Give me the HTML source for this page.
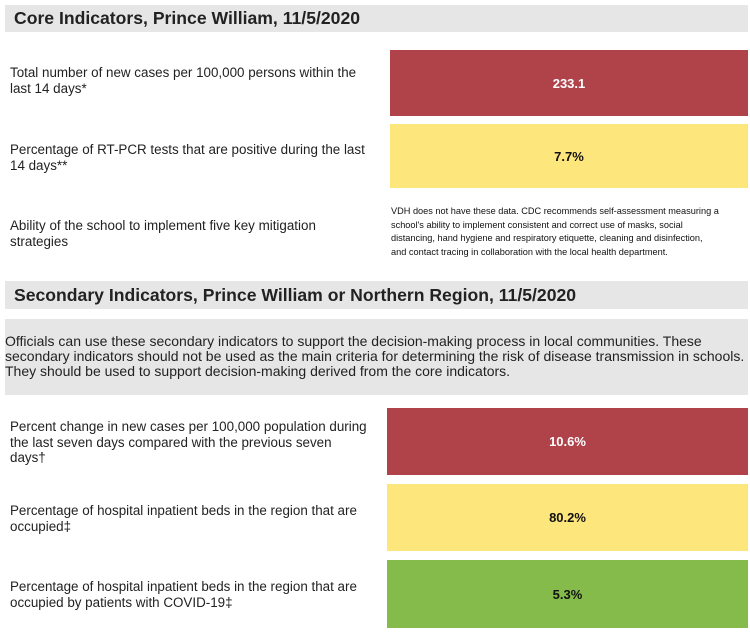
<!DOCTYPE html>
<html><head><meta charset="utf-8"><style>
body{margin:0;width:750px;height:640px;background:#fff;position:relative;overflow:hidden;font-family:"Liberation Sans",sans-serif;color:#222}
div{position:absolute}
.hdr{left:5px;right:2px;background:#e6e6e6;font-weight:bold;font-size:17.6px;color:#222;padding-left:9px;box-sizing:border-box;display:flex;align-items:center;white-space:nowrap}
.lbl{left:10px;font-size:13.4px;line-height:15.5px;color:#222;white-space:nowrap}
.box{font-weight:bold;font-size:13px;display:flex;align-items:center;justify-content:center}
.red{background:#b0434a;color:#fff}.yel{background:#fde77c;color:#111}.grn{background:#84bb4a;color:#111}
.small{left:391px;font-size:9.2px;line-height:13.5px;white-space:nowrap;color:#111;font-weight:500}
</style></head><body>
<div class="hdr" style="top:5px;height:27px">Core Indicators, Prince William, 11/5/2020</div>
<div class="lbl" style="top:65px">Total number of new cases per 100,000 persons within the<br>last 14 days*</div>
<div class="box red" style="left:390px;width:358px;top:50px;height:66px">233.1</div>
<div class="lbl" style="top:142px">Percentage of RT-PCR tests that are positive during the last<br>14 days**</div>
<div class="box yel" style="left:390px;width:358px;top:124px;height:64px">7.7%</div>
<div class="lbl" style="top:218px">Ability of the school to implement five key mitigation<br>strategies</div>
<div class="small" style="top:205px">VDH does not have these data. CDC recommends self-assessment measuring a<br>school's ability to implement consistent and correct use of masks, social<br>distancing, hand hygiene and respiratory etiquette, cleaning and disinfection,<br>and contact tracing in collaboration with the local health department.</div>
<div class="hdr" style="top:281px;height:28px">Secondary Indicators, Prince William or Northern Region, 11/5/2020</div>
<div style="left:5px;right:2px;top:319px;height:76px;background:#e6e6e6;font-size:14px;line-height:15px;padding-top:15px;box-sizing:border-box;color:#222;white-space:nowrap">Officials can use these secondary indicators to support the decision-making process in local communities. These<br>secondary indicators should not be used as the main criteria for determining the risk of disease transmission in schools.<br>They should be used to support decision-making derived from the core indicators.</div>
<div class="lbl" style="top:419px">Percent change in new cases per 100,000 population during<br>the last seven days compared with the previous seven<br>days†</div>
<div class="box red" style="left:387px;width:361px;top:408px;height:67px">10.6%</div>
<div class="lbl" style="top:503px">Percentage of hospital inpatient beds in the region that are<br>occupied‡</div>
<div class="box yel" style="left:387px;width:361px;top:484px;height:67px">80.2%</div>
<div class="lbl" style="top:579px">Percentage of hospital inpatient beds in the region that are<br>occupied by patients with COVID-19‡</div>
<div class="box grn" style="left:387px;width:361px;top:560px;height:68px">5.3%</div>
</body></html>
